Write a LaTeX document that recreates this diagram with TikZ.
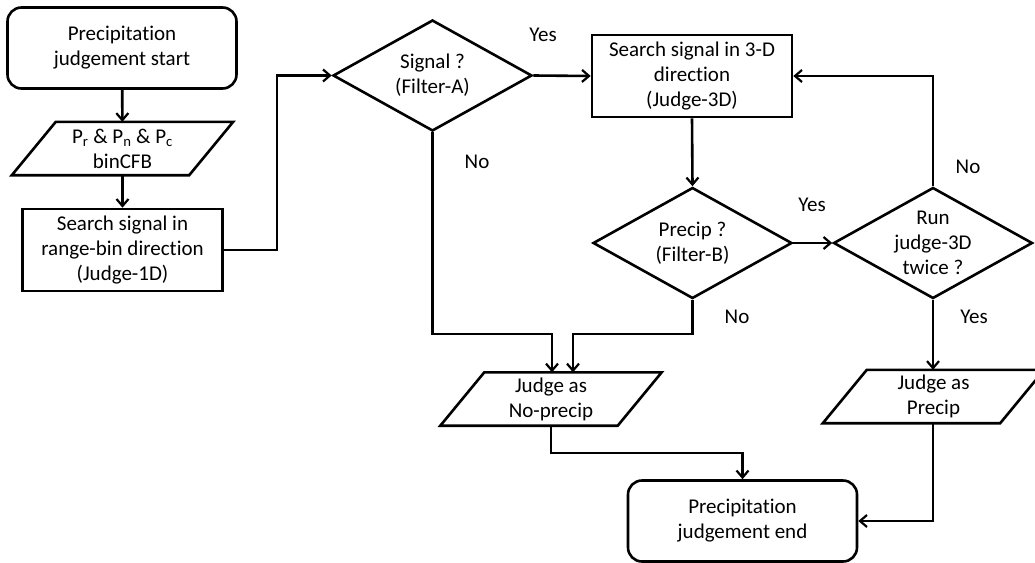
\documentclass[tikz,border=0pt]{standalone}
\usepackage{fontspec}
\setmainfont{Carlito}[Ligatures=NoCommon]
\usetikzlibrary{arrows.meta,shapes.geometric}
\begin{document}
\begin{tikzpicture}[x=1pt,y=-1pt,
  font=\fontsize{21}{25}\selectfont,
  every node/.style={align=center},
  wire/.style={line width=2.6pt},
  box/.style={draw, wire, rectangle, minimum width=200pt, minimum height=82pt, inner sep=0pt},
  term/.style={box, rounded corners=14pt, minimum width=229pt, minimum height=81pt},
  % slanted data box: the node is the middle body, the outline leans 22pt each way
  io/.style={rectangle, minimum width=177pt, minimum height=53pt, inner sep=0pt,
    append after command={\pgfextra{\draw[wire, line join=miter]
      ([xshift=-22pt]\tikzlastnode.south west) -- ([xshift=-22pt]\tikzlastnode.south east)
      -- ([xshift=22pt]\tikzlastnode.north east) -- ([xshift=22pt]\tikzlastnode.north west)
      -- cycle;}}},
  decision/.style={draw, wire, diamond, minimum width=199pt, minimum height=111pt, inner sep=0pt},
  arr/.style={wire, -{Straight Barb[length=7pt,width=12pt,line width=2.2pt]}},
  tag/.style={inner sep=0pt}
]
\useasboundingbox (0,0) rectangle (1035,562);
\begin{scope}
\clip (0,0) rectangle (1035,562);

% process nodes
\node[term] (start) at (122,48) {Precipitation\\judgement start};
\node[io] (inp) at (122.5,148.5) {P\textsubscript{r} \& P\textsubscript{n} \& P\textsubscript{c}\\binCFB};
\node[box] (j1d) at (122.5,250) {Search signal in\\range-bin direction\\(Judge-1D)};
\node[decision, label={[align=center]center:Signal ?\\(Filter-A)}] (sig) at (432.5,75.5) {};
\node[box] (j3d) at (692,76) {Search signal in 3-D\\direction\\(Judge-3D)};
\node[decision, label={[align=center]center:Precip ?\\(Filter-B)}] (pre) at (692.5,243) {};
\node[decision, label={[align=center]center:Run\\judge-3D\\twice ?}] (run) at (933,243) {};
\node[io] (npre) at (551,399) {Judge as\\No-precip};
\node[io] (pyes) at (933.5,396.5) {Judge as\\Precip};
\node[term] (endn) at (742.5,521) {Precipitation\\judgement end};

% branch labels
\node[tag] (ya) at (543,35) {Yes};
\node[tag] (na) at (477,162) {No};
\node[tag] (yb) at (812,205) {Yes};
\node[tag] (nb) at (737,317) {No};
\node[tag] (nc) at (968,167) {No};
\node[tag] (yc) at (974,317) {Yes};

% connectors
\draw[arr] (start) -- (inp);
\draw[arr] (inp) -- (j1d);
\draw[arr] (j1d.east) -- (277,250) |- (sig.west);
\draw[arr] (sig.east) -- (j3d.west);
\draw[arr] (j3d.south) -- (pre.north);
\draw[arr] (pre.east) -- (run.west);
\draw[arr] (run.north) |- (j3d.east);
\draw[arr] (run.south) -- (pyes.north -| run.south);
\draw[arr] (sig.south) -- (sig.south |- 0,334) -| ([xshift=1pt]npre.north);
\draw[arr] (pre.south) -- (pre.south |- 0,334) -| ([xshift=22pt]npre.north);
\draw[arr] (npre.south) -- (npre.south |- 0,453) -| (endn.north);
\draw[arr] (pyes.south -| run.south) |- (endn.east);
\end{scope}
\end{tikzpicture}
\end{document}
